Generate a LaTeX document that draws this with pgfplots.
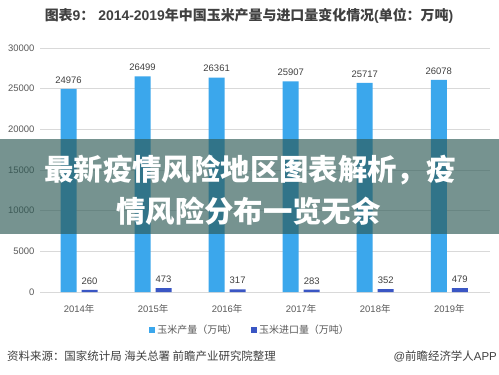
\documentclass[border=0pt]{standalone}
\usepackage{pgfplots}
\pgfplotsset{compat=1.18}
\usepackage{fontspec}
\setmainfont{Liberation Sans}
\newfontfamily\cjk{Noto Sans CJK SC}
\definecolor{lblue}{RGB}{59,167,236}
\definecolor{dblue}{RGB}{58,86,196}
\definecolor{txt}{RGB}{64,64,64}
\definecolor{tickc}{RGB}{89,89,89}
\definecolor{grd}{RGB}{217,217,217}
\definecolor{band}{RGB}{45,90,85}
\begin{document}
\begin{tikzpicture}[x=1bp,y=1bp]
\fill[white] (0,0) rectangle (499,374);
\useasboundingbox (0,0) rectangle (499,374);
\begin{axis}[
  at={(40bp,82bp)}, anchor=south west,
  scale only axis, width=450bp, height=244bp,
  ybar=5bp, bar width=16bp,
  xmin=-0.527, xmax=5.55, ymin=0, ymax=30000,
  xtick={0,1,2,3,4,5},
  xticklabels={2014{\cjk 年},2015{\cjk 年},2016{\cjk 年},2017{\cjk 年},2018{\cjk 年},2019{\cjk 年}},
  ytick={0,5000,10000,15000,20000,25000,30000},
  axis line style={draw=none}, major tick style={draw=none},
  ymajorgrids, grid style={grd, line width=0.8bp},
  /pgf/number format/.cd, 1000 sep={}, assume math mode=true, /pgfplots/.cd,
  scaled y ticks=false,
  yticklabel style={font=\fontsize{9.5}{11}\selectfont, text=tickc, xshift=-2bp},
  xticklabel style={font=\fontsize{9.5}{11}\selectfont, text=tickc, yshift=-5bp},
  nodes near coords,
  nodes near coords style={font=\fontsize{9.5}{11}\selectfont, text=txt, yshift=2bp},
  legend style={at={(0.467,-0.156)}, anchor=center, draw=none, fill=none,
    legend columns=2, font=\cjk\fontsize{10}{12}\selectfont, text=tickc,
    /tikz/every even column/.append style={column sep=12bp}},
  legend image code/.code={\fill[#1] (0bp,-3bp) rectangle (6bp,3bp);},
]
\addplot[fill=lblue, draw=none] coordinates {(0,24976) (1,26499) (2,26361) (3,25907) (4,25717) (5,26078)};
\addlegendentry{玉米产量（万吨）}
\addplot[fill=dblue, draw=none] coordinates {(0,260) (1,473) (2,317) (3,283) (4,352) (5,479)};
\addlegendentry{玉米进口量（万吨）}
\end{axis}
\node[font=\bfseries\fontsize{14}{16}\selectfont, text=txt] at (249,358)
  {{\cjk 图表}9{\cjk ：} 2014-2019{\cjk 年中国玉米产量与进口量变化情况}({\cjk 单位：万吨})};
\fill[band, opacity=0.65] (0,140) rectangle (499,235);
\node[font=\cjk\bfseries\fontsize{29.5}{31}\selectfont, text=white] at (250,204) {最新疫情风险地区图表解析，疫};
\node[font=\cjk\bfseries\fontsize{29.5}{31}\selectfont, text=white] at (248.5,163) {情风险分布一览无余};
\node[font=\cjk\fontsize{11.5}{13}\selectfont, text=txt, anchor=west, inner sep=0] at (7,18) {资料来源：国家统计局 海关总署 前瞻产业研究院整理};
\node[font=\fontsize{11.5}{13}\selectfont, text=txt, anchor=east, inner sep=0] at (497,18) {@{\cjk 前瞻经济学人}APP};
\end{tikzpicture}
\end{document}
